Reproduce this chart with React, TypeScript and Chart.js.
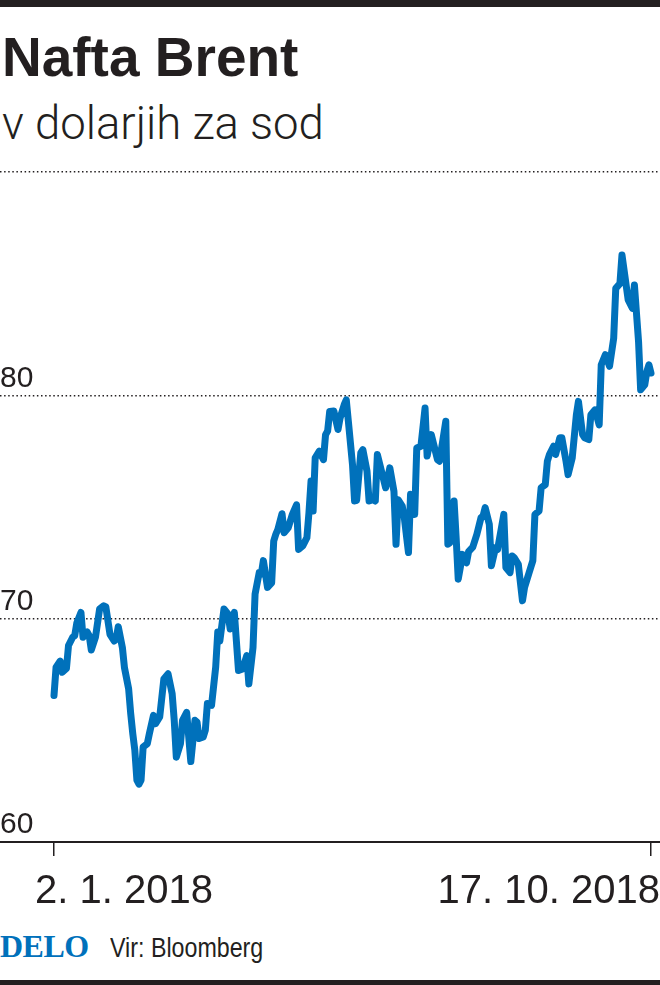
import { useEffect, useRef } from "react";
import { Chart, registerables } from "chart.js";

Chart.register(...registerables);

// Calendar-day offsets from 2. 1. 2018 and Brent price (USD per barrel)
const dayOffsets = [
  0, 1, 3, 4, 6, 7, 9, 10, 11, 13, 14, 16, 17, 18, 20, 22, 24, 25, 27, 29,
  30, 31, 33, 34, 36, 37, 38, 39, 40, 41, 42, 43, 45, 46, 48, 49, 51, 53, 55, 57,
  58, 59, 61, 62, 64, 65, 66, 68, 69, 70, 72, 73, 74, 76, 78, 79, 80, 82, 84, 85,
  87, 89, 91, 93, 94, 96, 97, 99, 100, 101, 103, 105, 106, 107, 108, 110, 111, 113, 115, 117,
  118, 120, 122, 123, 124, 125, 126, 128, 130, 131, 132, 133, 135, 137, 138, 140, 141, 142, 144, 145,
  146, 148, 149, 151, 152, 154, 155, 156, 158, 160, 162, 164, 165, 166, 168, 169, 171, 172, 174, 175,
  177, 179, 180, 182, 185, 186, 189, 190, 191, 193, 194, 195, 196, 197, 199, 200, 202, 204, 206, 207,
  208, 210, 211, 213, 214, 217, 218, 220, 221, 222, 224, 226, 227, 229, 231, 232, 234, 235, 237, 238,
  239, 241, 242, 244, 245, 247, 248, 250, 252, 253, 255, 256, 258, 259, 261, 263, 264, 266, 268, 270,
  271, 273, 274, 276, 277, 279, 280, 282, 283, 285, 286, 287, 288,
];

const brent = [
  66.56, 67.83, 68.1, 67.6, 67.77, 68.8, 69.17, 69.24, 69.8, 70.28, 69.17, 69.4, 69.24, 68.6, 69.17, 70.43, 70.58, 70.53, 69.3, 69.0,
  69.1, 69.64, 68.7, 67.8, 66.86, 65.75, 64.85, 64.1, 62.77, 62.59, 62.77, 64.25, 64.4, 64.85, 65.67, 65.3, 65.6, 67.3, 67.53, 66.64,
  65.45, 63.8, 64.4, 65.45, 65.8, 64.7, 63.6, 65.45, 65.37, 64.63, 64.7, 65.0, 66.2, 66.12, 67.83, 69.4, 69.0, 70.43, 70.2, 69.54,
  70.28, 67.68, 67.75, 68.35, 67.08, 68.7, 71.1, 72.06, 72.0, 72.6, 71.4, 71.6, 73.48, 73.78, 74.0, 74.7, 73.85, 74.07, 74.67, 75.1,
  73.1, 73.26, 73.63, 74.75, 76.16, 74.82, 77.2, 77.5, 77.12, 78.24, 78.4, 79.28, 79.3, 78.47, 78.98, 79.58, 79.8, 78.84, 76.9, 75.27,
  75.3, 77.42, 77.57, 76.6, 75.27, 75.33, 75.27, 77.35, 76.6, 75.86, 76.75, 75.7, 73.33, 75.33, 75.04, 74.52, 72.96, 75.57, 74.67, 77.64,
  77.72, 79.43, 77.28, 78.24, 77.12, 77.05, 78.84, 73.33, 73.4, 75.27, 73.63, 71.77, 72.29, 72.88, 72.5, 73.0, 73.2, 73.78, 74.52, 74.6,
  74.97, 74.22, 72.37, 73.18, 73.1, 74.67, 72.29, 72.06, 72.81, 72.73, 72.43, 70.8, 71.4, 72.0, 72.6, 74.67, 74.82, 75.86, 76.0, 77.05,
  77.35, 77.72, 77.35, 78.1, 78.1, 77.05, 76.45, 77.2, 79.13, 79.73, 78.24, 78.1, 78.02, 79.13, 79.35, 78.68, 81.37, 81.82, 81.3, 82.56,
  84.79, 85.0, 86.28, 84.94, 84.27, 83.9, 84.94, 82.4, 80.25, 80.47, 81.07, 81.37, 81.0,
];

const xTickDays = [0, 288];
const xTickLabels = ["2. 1. 2018", "17. 10. 2018"];
const yTickValues = [60, 70, 80, 90];
const yTickLabels = ["60", "70", "80", ""];

// layout (pixels)
const W = 660;
const CANVAS_TOP = 151;
const CANVAS_H = 765;
const FIRST_TICK_PX = 54;
const LAST_TICK_PX = 651;
const LABEL_LEFT_PX = 35;

const INK = "#231f20";
const BLUE = "#0071bb";
const SANS = "'Liberation Sans', Arial, sans-serif";

export default function App() {
  const ref = useRef<HTMLCanvasElement | null>(null);

  useEffect(() => {
    document.body.style.margin = "0";
    const canvas = ref.current;
    if (!canvas) return;
    const span = xTickDays[1] - xTickDays[0];
    const pxPerDay = (LAST_TICK_PX - FIRST_TICK_PX) / span;
    const xMin = xTickDays[0] - FIRST_TICK_PX / pxPerDay;
    const xMax = xTickDays[1] + (W - LAST_TICK_PX) / pxPerDay;
    const labelLeftDay = xTickDays[0] + (LABEL_LEFT_PX - FIRST_TICK_PX) / pxPerDay;

    const points = dayOffsets.map((d, i) => ({ x: d, y: brent[i] }));

    const chart = new Chart(canvas, {
      type: "line",
      data: {
        datasets: [
          {
            data: points,
            borderColor: BLUE,
            borderWidth: 7,
            pointRadius: 0,
            tension: 0,
            borderJoinStyle: "round",
            borderCapStyle: "round",
            clip: false as any,
          },
        ],
      },
      options: {
        responsive: false,
        animation: false,
        devicePixelRatio: 1,
        layout: { padding: { top: 21, left: 0, right: 0, bottom: 0 } },
        plugins: { legend: { display: false }, tooltip: { enabled: false } },
        scales: {
          x: {
            type: "linear",
            position: "bottom",
            weight: 0,
            min: xMin,
            max: xMax,
            afterBuildTicks: (s: any) => {
              s.ticks = xTickDays.map((v) => ({ value: v }));
            },
            grid: {
              display: true,
              drawOnChartArea: false,
              drawTicks: true,
              tickLength: 14,
              color: INK,
              lineWidth: 1.5,
            },
            border: { display: true, color: INK, width: 2 },
            ticks: { display: false },
          },
          xl: {
            type: "linear",
            position: "bottom",
            weight: 1,
            min: xMin,
            max: xMax,
            afterBuildTicks: (s: any) => {
              s.ticks = [{ value: labelLeftDay }, { value: xMax }];
            },
            grid: {
              display: true,
              drawOnChartArea: false,
              drawTicks: true,
              tickLength: 12,
              color: "rgba(0,0,0,0)",
            },
            border: { display: false },
            ticks: {
              display: true,
              autoSkip: false,
              maxRotation: 0,
              minRotation: 0,
              align: "inner",
              padding: 0,
              color: INK,
              font: { family: SANS, size: 40 },
              callback: (_v: any, i: number) => xTickLabels[i],
            },
          },
          y: {
            type: "linear",
            min: yTickValues[0],
            max: yTickValues[yTickValues.length - 1],
            afterBuildTicks: (s: any) => {
              s.ticks = yTickValues.map((v) => ({ value: v }));
            },
            grid: {
              display: true,
              drawTicks: false,
              color: INK,
              lineWidth: 1.5,
            },
            border: { display: false, dash: [1.5, 2.6] },
            ticks: {
              mirror: true,
              padding: 0,
              labelOffset: -17,
              color: INK,
              font: { family: SANS, size: 30 },
              callback: (_v: any, i: number) => yTickLabels[i],
            },
          },
        },
      },
    } as any);
    return () => chart.destroy();
  }, []);

  return (
    <div style={{ position: "relative", width: W, height: 985, background: "#fff", overflow: "hidden" }}>
      <div style={{ position: "absolute", left: 0, top: 0, width: W, height: 7, background: INK }} />
      <div
        style={{
          position: "absolute",
          left: 2,
          top: 30,
          font: `700 55px ${SANS}`,
          lineHeight: "55px",
          color: INK,
          whiteSpace: "nowrap",
        }}
      >
        Nafta Brent
      </div>
      <div
        style={{
          position: "absolute",
          left: 2,
          top: 101,
          font: "300 45.5px Roboto, 'Liberation Sans', sans-serif",
          lineHeight: "45px",
          color: INK,
          whiteSpace: "nowrap",
        }}
      >
        v dolarjih za sod
      </div>
      <canvas
        ref={ref}
        width={W}
        height={CANVAS_H}
        style={{ position: "absolute", left: 0, top: CANVAS_TOP, width: W, height: CANVAS_H }}
      />
      <div
        style={{
          position: "absolute",
          left: 0,
          top: 930,
          font: "700 32px 'Liberation Serif', 'Times New Roman', serif",
          lineHeight: "32px",
          color: BLUE,
          letterSpacing: "-0.5px",
          whiteSpace: "nowrap",
        }}
      >
        DELO
      </div>
      <div
        style={{
          position: "absolute",
          left: 110,
          top: 934,
          font: `400 28px ${SANS}`,
          lineHeight: "28px",
          color: INK,
          whiteSpace: "nowrap",
          transform: "scaleX(0.83)",
          transformOrigin: "0 0",
        }}
      >
        Vir: Bloomberg
      </div>
      <div style={{ position: "absolute", left: 0, top: 980, width: W, height: 5, background: INK }} />
    </div>
  );
}
